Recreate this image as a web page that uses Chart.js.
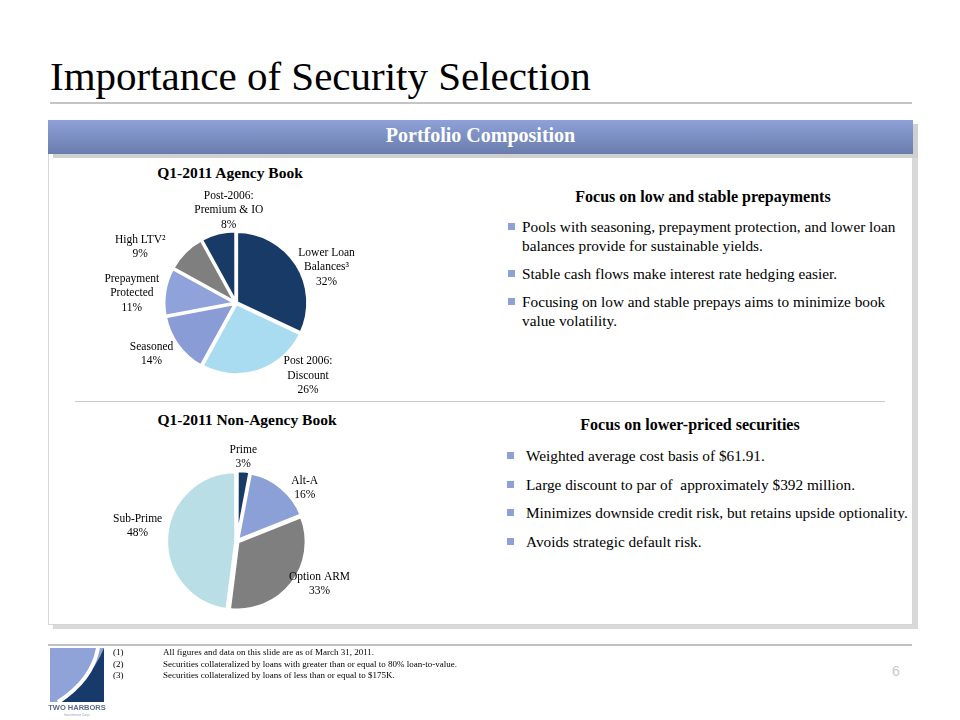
<!DOCTYPE html>
<html>
<head>
<meta charset="utf-8">
<script src="https://cdn.jsdelivr.net/npm/chart.js@4.4.1/dist/chart.umd.min.js"></script>
<style>
  html, body { margin: 0; padding: 0; background: #fff; }
  body { width: 960px; height: 720px; position: relative; overflow: hidden; font-family: "Liberation Serif", "DejaVu Serif", serif; color: #000; }
  .abs { position: absolute; }
  #title { left: 50px; top: 52px; font-size: 41px; line-height: 48px; white-space: nowrap; }
  #titleLine { left: 50px; top: 102px; width: 862px; height: 2px; background: #c4c4c4; }
  #panel { left: 48px; top: 154px; width: 863px; height: 470px; border: 1px solid #d6d6d6; border-top: none; box-shadow: 5px 4px 0 #d9d9d9; background: #fff; }
  #band { left: 48px; top: 120px; width: 865px; height: 34px; background: linear-gradient(#8ea2d9, #6a7cab); box-shadow: 5px 4px 0 #d0d0d0; color: #fff; font-weight: bold; font-size: 20px; line-height: 31px; text-align: center; }
  #divider { left: 75px; top: 401px; width: 810px; height: 1px; background: #c8c8c8; }
  .ptitle { font-weight: bold; font-size: 15.5px; white-space: nowrap; text-align: center; width: 260px; }
  .head { font-weight: bold; font-size: 16px; white-space: nowrap; text-align: center; width: 420px; }
  ul.bul { list-style: none; margin: 0; padding: 0; font-size: 15.3px; line-height: 19px; }
  ul.bul li { position: relative; padding-left: 0; }
  ul.bul li::before { content: ""; position: absolute; width: 7px; height: 7px; background: #8fa0d6; }
  #b1 { left: 522px; top: 217px; width: 392px; }
  #b1 li { margin-bottom: 9px; }
  #b1 li::before { left: -14px; top: 6px; }
  #b2 { left: 526px; top: 446px; width: 400px; }
  #b2 li { margin-bottom: 9.5px; }
  #b2 li::before { left: -19px; top: 6px; }
  #footLine { left: 48px; top: 644px; width: 864px; height: 2px; background: #c0c0c0; }
  .note { font-size: 9px; line-height: 11.5px; white-space: nowrap; }
  #pageNo { left: 892px; top: 663px; font-family: "Liberation Sans", sans-serif; font-size: 14px; color: #c8c8c8; }
  canvas { position: absolute; }
</style>
</head>
<body>
<div class="abs" id="title">Importance of Security Selection</div>
<div class="abs" id="titleLine"></div>
<div class="abs" id="panel"></div>
<div class="abs" id="band">Portfolio Composition</div>
<div class="abs" id="divider"></div>

<div class="abs ptitle" style="left:100px; top:164px;">Q1-2011 Agency Book</div>
<div class="abs ptitle" style="left:117px; top:411px;">Q1-2011 Non-Agency Book</div>

<div class="abs head" style="left:493px; top:188px;">Focus on low and stable prepayments</div>
<ul class="abs bul" id="b1">
  <li>Pools with seasoning, prepayment protection, and lower loan balances provide for sustainable yields.</li>
  <li>Stable cash flows make interest rate hedging easier.</li>
  <li>Focusing on low and stable prepays aims to minimize book value volatility.</li>
</ul>

<div class="abs head" style="left:480px; top:416px;">Focus on lower-priced securities</div>
<ul class="abs bul" id="b2">
  <li>Weighted average cost basis of $61.91.</li>
  <li>Large discount to par of&nbsp; approximately $392 million.</li>
  <li>Minimizes downside credit risk, but retains upside optionality.</li>
  <li>Avoids strategic default risk.</li>
</ul>

<canvas id="agencyChart" style="left:96px; top:183px;" width="280" height="240"></canvas>
<canvas id="nonAgencyChart" style="left:97px; top:431px;" width="280" height="220"></canvas>

<div class="abs" id="footLine"></div>
<svg class="abs" style="left:48px; top:648px;" width="60" height="70" viewBox="0 0 60 70">
  <rect x="2" y="0" width="54" height="54" fill="#8fa3d9"/>
  <path d="M56 0 L56 54 L14 54 C30 40 46 24 56 0 Z" fill="#173a6a"/>
  <path d="M50 0 C46 22 32 40 10 54" stroke="#fff" stroke-width="4" fill="none"/>
  <text x="29" y="62" font-family="Liberation Sans, sans-serif" font-size="7.5" font-weight="bold" fill="#5a6b8c" text-anchor="middle">TWO HARBORS</text>
  <text x="29" y="68" font-family="Liberation Sans, sans-serif" font-size="3.5" fill="#9aa5b8" text-anchor="middle">Investment Corp.</text>
</svg>
<div class="abs note" style="left:113px; top:647px;">(1)<br>(2)<br>(3)</div>
<div class="abs note" style="left:163px; top:647px;">All figures and data on this slide are as of March 31, 2011.<br>Securities collateralized by loans with greater than or equal to 80% loan-to-value.<br>Securities collateralized by loans of less than or equal to $175K.</div>
<div class="abs" id="pageNo">6</div>

<script>
// Данные: Agency Book
const agencyLabels = [
    ['Lower Loan', 'Balances³'],
    ['Post 2006:', 'Discount'],
    ['Seasoned'],
    ['Prepayment', 'Protected'],
    ['High LTV²'],
    ['Post-2006:', 'Premium & IO']
];
const agencyValues = [32, 26, 14, 11, 9, 8];
const agencyColors = ['#173a66', '#a9dbf1', '#8a9cd6', '#8fa2da', '#7f7f7f', '#173a66'];

// Данные: Non-Agency Book
const nonAgencyLabels = [['Prime'], ['Alt-A'], ['Option ARM'], ['Sub-Prime']];
const nonAgencyValues = [3, 16, 33, 48];
const nonAgencyColors = ['#173a66', '#8ca0d8', '#7f7f7f', '#badee5'];

// Подписи снаружи секторов (сдвиги — только для раскладки текста)
const outsideLabels = {
    id: 'outsideLabels',
    afterDatasetsDraw(chart, args, opts) {
        const ctx = chart.ctx;
        const meta = chart.getDatasetMeta(0);
        const values = chart.data.datasets[0].data;
        ctx.save();
        ctx.font = opts.font;
        ctx.fillStyle = '#000';
        ctx.textAlign = 'center';
        ctx.textBaseline = 'middle';
        meta.data.forEach((arc, i) => {
            const p = arc.getProps(['x', 'y', 'startAngle', 'endAngle', 'outerRadius'], true);
            const mid = (p.startAngle + p.endAngle) / 2;
            const dx = Math.cos(mid), dy = Math.sin(mid);
            const lines = chart.data.labels[i].concat([values[i] + '%']);
            const w = Math.max(...lines.map(l => ctx.measureText(l).width));
            const h = lines.length * opts.lineHeight;
            const r = p.outerRadius + opts.gap;
            const nudge = opts.nudge[i] || [0, 0];
            const cx = p.x + dx * r + dx * w / 2 + nudge[0];
            const cy = p.y + dy * r + dy * h / 2 + nudge[1];
            lines.forEach((l, k) => {
                ctx.fillText(l, cx, cy - h / 2 + opts.lineHeight * (k + 0.5));
            });
        });
        ctx.restore();
    }
};

function makePie(id, labels, values, colors, labelOpts, offset, radius) {
    return new Chart(document.getElementById(id), {
        type: 'pie',
        data: {
            labels,
            datasets: [{
                data: values,
                backgroundColor: colors,
                borderColor: '#fff',
                borderWidth: 3,
                offset: offset,
                radius: radius
            }]
        },
        options: {
            responsive: false,
            animation: false,
            layout: { padding: 20 },
            plugins: {
                legend: { display: false },
                tooltip: { enabled: false },
                outsideLabels: labelOpts
            }
        },
        plugins: [outsideLabels]
    });
}

makePie('agencyChart', agencyLabels, agencyValues, agencyColors, {
    font: '11.5px "Liberation Serif", serif',
    lineHeight: 14.5,
    gap: 8,
    nudge: [[0, 18], [40, -23], [-3, -4], [1, 6], [-22, 10], [21, 5]]
}, 3, 71);

makePie('nonAgencyChart', nonAgencyLabels, nonAgencyValues, nonAgencyColors, {
    font: '11.5px "Liberation Serif", serif',
    lineHeight: 14,
    gap: 6,
    nudge: [[-2, 4], [12, 15], [0, -11], [-1, -9]]
}, 5, 68);
</script>
</body>
</html>
